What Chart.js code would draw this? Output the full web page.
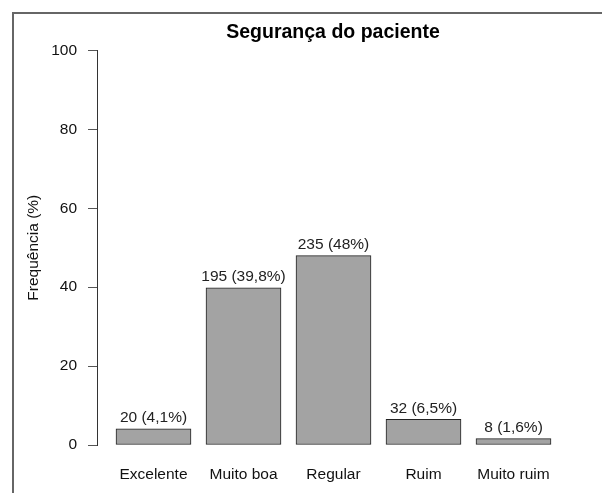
<!DOCTYPE html>
<html>
<head>
<meta charset="utf-8">
<script src="https://cdn.jsdelivr.net/npm/chart.js@4/dist/chart.umd.min.js"></script>
<style>
  html, body { margin: 0; padding: 0; background: #fff; }
  #wrap { width: 602px; height: 493px; }
</style>
</head>
<body>
<div id="wrap"><canvas id="chart" width="602" height="493"></canvas></div>
<script>
const categories = ['Excelente', 'Muito boa', 'Regular', 'Ruim', 'Muito ruim'];
const counts = [20, 195, 235, 32, 8];
const percents = [4.1, 39.8, 48, 6.5, 1.6];
const yTicks = [0, 20, 40, 60, 80, 100];

const font = 'Liberation Sans, Arial, Helvetica, sans-serif';

// moldura cinza em volta da figura (como a janela do R)
const framePlugin = {
  id: 'frame',
  beforeDraw(chart) {
    const ctx = chart.ctx;
    ctx.save();
    ctx.fillStyle = '#fff';
    ctx.fillRect(0, 0, chart.width, chart.height);
    ctx.strokeStyle = '#666';
    ctx.lineWidth = 2;
    ctx.beginPath();
    ctx.moveTo(13, chart.height + 5);
    ctx.lineTo(13, 13);
    ctx.lineTo(chart.width + 5, 13);
    ctx.stroke();
    ctx.restore();
  }
};

// rótulos "n (x%)" em cima das barras
const valueLabels = {
  id: 'valueLabels',
  afterDatasetsDraw(chart) {
    const ctx = chart.ctx;
    const meta = chart.getDatasetMeta(0);
    ctx.save();
    ctx.font = '15.5px ' + font;
    ctx.fillStyle = '#222';
    ctx.textAlign = 'center';
    ctx.textBaseline = 'middle';
    meta.data.forEach((bar, i) => {
      const pct = String(percents[i]).replace('.', ',');
      ctx.fillText(counts[i] + ' (' + pct + '%)', bar.x, bar.y - 11);
    });
    ctx.restore();
  }
};

new Chart(document.getElementById('chart'), {
  type: 'bar',
  data: {
    datasets: [{
      data: percents.map((p, i) => ({ x: i, y: p })),
      backgroundColor: '#a3a3a3',
      borderColor: '#222',
      borderWidth: 1,
      borderSkipped: false,
      barThickness: 75
    }]
  },
  options: {
    responsive: false,
    animation: false,
    layout: { padding: { left: 0, right: 33, top: 0, bottom: 0 } },
    plugins: {
      legend: { display: false },
      tooltip: { enabled: false },
      title: {
        display: true,
        text: 'Segurança do paciente',
        fullSize: false,
        color: '#000',
        font: { family: font, size: 19.5, weight: 'bold' },
        padding: { top: 21, bottom: 6 }
      }
    },
    scales: {
      x: {
        type: 'linear',
        offset: false,
        min: -0.62778,
        max: 4.61667,
        afterFit(scale) { scale.height = 48; },
        afterBuildTicks(scale) {
          scale.ticks = categories.map((c, i) => ({ value: i }));
        },
        ticks: {
          callback: (v) => categories[v],
          color: '#111',
          font: { family: font, size: 15.5 },
          padding: 20,
          maxRotation: 0,
          autoSkip: false
        },
        grid: { display: false, drawTicks: false },
        border: { display: false }
      },
      y: {
        min: 0,
        max: 100,
        afterFit(scale) { scale.width = 97; },
        afterBuildTicks(scale) {
          scale.ticks = yTicks.map(v => ({ value: v }));
        },
        ticks: {
          color: '#111',
          font: { family: font, size: 15.5 },
          padding: 11
        },
        grid: {
          drawOnChartArea: false,
          tickLength: 9,
          color: '#555'
        },
        border: { display: true, color: '#333', width: 1 },
        title: {
          display: true,
          text: 'Frequência (%)',
          color: '#111',
          font: { family: font, size: 15.5 },
          padding: { top: 24, bottom: 0 }
        }
      }
    }
  },
  plugins: [framePlugin, valueLabels]
});
</script>
</body>
</html>
